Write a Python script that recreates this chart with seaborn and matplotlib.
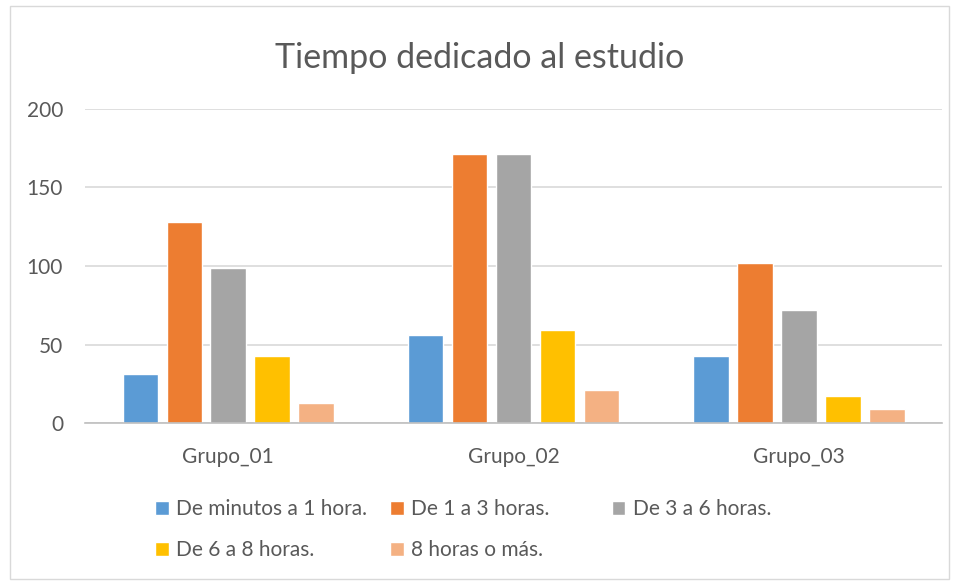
import pandas as pd
import matplotlib.pyplot as plt
import seaborn as sns
from matplotlib.patches import Rectangle

grupos = ["Grupo_01", "Grupo_02", "Grupo_03"]
categorias = ["De minutos a 1 hora.", "De 1 a 3 horas.", "De 3 a 6 horas.",
              "De 6 a 8 horas.", "8 horas o más."]
valores = {
    "De minutos a 1 hora.": [31, 56, 43],
    "De 1 a 3 horas.": [128, 171, 102],
    "De 3 a 6 horas.": [99, 171, 72],
    "De 6 a 8 horas.": [43, 59, 17],
    "8 horas o más.": [13, 21, 9],
}
colores = ["#5b9bd5", "#ed7d31", "#a5a5a5", "#ffc000", "#f4b183"]

rows = []
for cat in categorias:
    for g, v in zip(grupos, valores[cat]):
        rows.append({"Grupo": g, "Tiempo": cat, "Valor": v})
df = pd.DataFrame(rows)

sns.set_style("white")
plt.rcParams['font.family'] = ['Lato', 'DejaVu Sans']

fig = plt.figure(figsize=(9.59, 5.82), dpi=100)
ax = fig.add_axes([0.089, 0.273, 0.893, 0.54])

sns.barplot(data=df, x="Grupo", y="Valor", hue="Tiempo", hue_order=categorias,
            palette=colores, width=0.77, gap=0.2, saturation=1, ax=ax)

ax.set_ylim(0, 200)
ax.set_yticks([0, 50, 100, 150, 200])
ax.set_xlim(-0.5, 2.5)
ax.yaxis.grid(True, color="#d9d9d9", linewidth=1.2)
ax.set_axisbelow(True)
for s in ["top", "right", "left"]:
    ax.spines[s].set_visible(False)
ax.spines["bottom"].set_color("#bfbfbf")
ax.spines["bottom"].set_linewidth(1.2)
ax.tick_params(axis="both", length=0, labelsize=15, colors="#595959")
ax.tick_params(axis="x", pad=17)
ax.tick_params(axis="y", pad=16)
ax.set_xlabel("")
ax.set_ylabel("")

fig.suptitle("Tiempo dedicado al estudio", fontsize=24.5, color="#595959", y=0.928)

handles, labels = ax.get_legend_handles_labels()
ax.get_legend().remove()
# Excel-style legend: three equally spaced columns, filled row by row
col_x = [0.162, 0.407, 0.638]
columnas = [[0, 3], [1, 4], [2]]
for x, idx in zip(col_x, columnas):
    fig.legend([handles[i] for i in idx], [labels[i] for i in idx],
               loc="upper left", bbox_to_anchor=(x, 0.142), frameon=False,
               borderpad=0, borderaxespad=0, fontsize=15, labelcolor="#595959",
               handlelength=0.65, handleheight=0.65, handletextpad=0.35,
               labelspacing=1.0)

fig.patches.append(Rectangle((0.01, 0.005), 0.98, 0.985, transform=fig.transFigure,
                             fill=False, edgecolor="#d9d9d9", linewidth=1))

plt.savefig("out.png", dpi=100)
